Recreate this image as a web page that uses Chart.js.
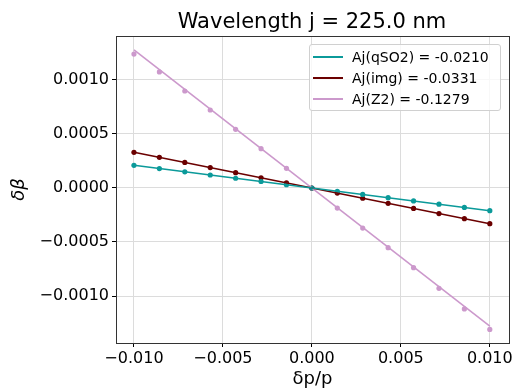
<!DOCTYPE html>
<html>
<head>
<meta charset="utf-8">
<script src="https://cdn.jsdelivr.net/npm/chart.js@4"></script>
<style>
    html, body { margin: 0; padding: 0; background: #fff; }
    #wrap { position: relative; width: 515px; height: 390px; font-family: "DejaVu Sans", sans-serif; }
    #chart-title { position: absolute; left: 312px; top: 9px; transform: translateX(-50%); font-size: 21px; white-space: nowrap; color: #000; }
    #legend { position: absolute; left: 309px; top: 44px; width: 190px; padding: 1px 0; border: 1px solid #d0d0d0; border-radius: 3px; background: rgba(255,255,255,0.8); font-size: 14px; }
    .legend-row { display: flex; align-items: center; height: 21px; }
    .legend-swatch { width: 30px; height: 0; border-top: 2px solid; margin: 0 9px 0 3px; }
</style>
</head>
<body>
<div id="wrap">
    <canvas id="c" width="515" height="390"></canvas>
    <div id="chart-title">Wavelength j = 225.0 nm</div>
    <div id="legend"></div>
</div>
<script>
// momentum offsets (delta p / p)
const dpp = [-0.010, -0.008571, -0.007143, -0.005714, -0.004286, -0.002857, -0.001429, 0,
             0.001429, 0.002857, 0.004286, 0.005714, 0.007143, 0.008571, 0.010];

// measured delta beta points
const qso2Pts = [0.00021, 0.00018, 0.00015, 0.00012, 0.00009, 0.00006, 0.00003, 0,
                 -0.00003, -0.00006, -0.00009, -0.00012, -0.00015, -0.00018, -0.00021];
const imgPts = [0.00033, 0.000284, 0.000237, 0.000189, 0.000142, 0.000095, 0.000047, 0,
                -0.000047, -0.000095, -0.000142, -0.000189, -0.000237, -0.000284, -0.00033];
const z2Pts = [0.00124, 0.001074, 0.000898, 0.000722, 0.000543, 0.000364, 0.000182, 0,
               -0.000186, -0.000371, -0.000553, -0.000738, -0.000929, -0.00112, -0.001309];

// linear fit end points
const fitX = [-0.010, 0.010];
const qso2Fit = [0.00021, -0.00021];
const imgFit = [0.000331, -0.000331];
const z2Fit = [0.001279, -0.001279];

const seriesNames = ['Aj(qSO2) = -0.0210', 'Aj(img) = -0.0331', 'Aj(Z2) = -0.1279'];
const seriesColors = ['#0b9a9a', '#6b0000', '#cc99cc'];

const xTicks = [-0.010, -0.005, 0.000, 0.005, 0.010];
const yTicks = [-0.0010, -0.0005, 0.0000, 0.0005, 0.0010];

function pairs(xs, ys) {
    return xs.map((x, i) => ({ x: x, y: ys[i] }));
}

function fmt(v, d) {
    return v.toFixed(d).replace('-', '\u2212');
}

const pts = [qso2Pts, imgPts, z2Pts];
const fits = [qso2Fit, imgFit, z2Fit];
const datasets = [];
for (let i = 0; i < 3; i++) {
    datasets.push({
        label: seriesNames[i] + ' pts', data: pairs(dpp, pts[i]), showLine: false,
        pointRadius: 2.6, pointBorderWidth: 0, pointBackgroundColor: seriesColors[i], order: 2
    });
}
for (let i = 0; i < 3; i++) {
    datasets.push({
        label: seriesNames[i], data: pairs(fitX, fits[i]), showLine: true,
        borderColor: seriesColors[i], borderWidth: 1.6, pointRadius: 0, order: 1
    });
}

const frame = {
    id: 'frame',
    afterDraw(chart) {
        const a = chart.chartArea, ctx = chart.ctx;
        ctx.save();
        ctx.strokeStyle = '#333';
        ctx.lineWidth = 1;
        ctx.strokeRect(Math.round(a.left) + 0.5, Math.round(a.top) + 0.5,
                       Math.round(a.right - a.left), Math.round(a.bottom - a.top));
        ctx.restore();
    }
};

const tickFont = { family: 'DejaVu Sans', size: 16 };
const titleFont = { family: 'DejaVu Sans', size: 18 };

new Chart(document.getElementById('c'), {
    type: 'scatter',
    data: { datasets: datasets },
    options: {
        responsive: false,
        animation: false,
        layout: { padding: { top: 36, right: 6, left: 0, bottom: 0 } },
        plugins: { legend: { display: false }, tooltip: { enabled: false } },
        scales: {
            x: {
                type: 'linear', min: -0.01101, max: 0.01107,
                afterBuildTicks(s) { s.ticks = xTicks.map(v => ({ value: v })); },
                afterFit(s) { s.height = 47; },
                ticks: { color: '#000', font: tickFont, padding: 2, maxRotation: 0, callback: v => fmt(v, 3) },
                grid: { color: '#dcdcdc', tickColor: '#000', tickLength: 4 },
                border: { display: false },
                title: { display: true, text: 'δp/p', color: '#000', font: titleFont, padding: 0 }
            },
            y: {
                type: 'linear', min: -0.001435, max: 0.001407,
                afterBuildTicks(s) { s.ticks = yTicks.map(v => ({ value: v })); },
                afterFit(s) { s.width = 116; },
                ticks: { color: '#000', font: tickFont, padding: 3, callback: v => fmt(v, 4) },
                grid: { color: '#dcdcdc', tickColor: '#000', tickLength: 4 },
                border: { display: false },
                title: { display: true, text: 'δβ', color: '#000', font: Object.assign({ style: 'italic' }, titleFont), padding: { top: 9, bottom: 0 } }
            }
        }
    },
    plugins: [frame]
});

const legend = document.getElementById('legend');
legend.innerHTML = seriesNames.map((n, i) =>
    `<div class="legend-row"><span class="legend-swatch" style="border-color:${seriesColors[i]}"></span>${n}</div>`
).join('');
</script>
</body>
</html>
